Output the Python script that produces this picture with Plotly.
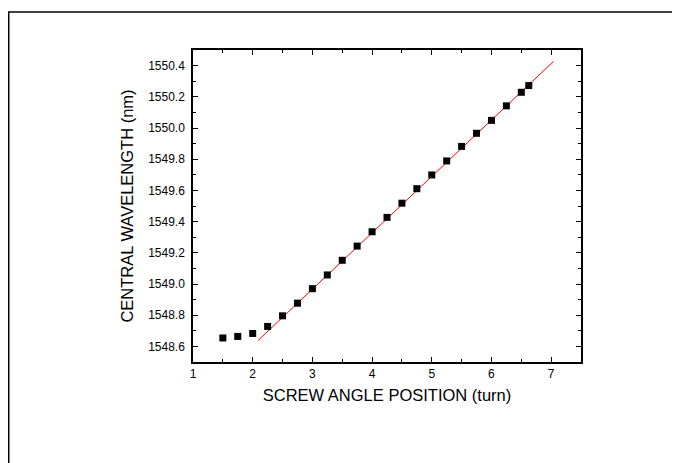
import plotly.graph_objects as go

# measured data (screw angle position in turns, central wavelength in nm)
turns = [1.5, 1.75, 2.0, 2.25, 2.5, 2.75, 3.0, 3.25, 3.5, 3.75, 4.0, 4.25,
         4.5, 4.75, 5.0, 5.25, 5.5, 5.75, 6.0, 6.25, 6.5, 6.625]
wavelength = [1548.654, 1548.664, 1548.683, 1548.728, 1548.796, 1548.877,
              1548.970, 1549.058, 1549.152, 1549.243, 1549.335, 1549.427,
              1549.518, 1549.611, 1549.699, 1549.789, 1549.882, 1549.966,
              1550.049, 1550.142, 1550.229, 1550.272]

# linear fit line endpoints
fit_x = [2.09, 7.04]
fit_y = [1548.638, 1550.427]

x_ticks = [1, 2, 3, 4, 5, 6, 7]
y_ticks = [1548.6, 1548.8, 1549.0, 1549.2, 1549.4, 1549.6, 1549.8, 1550.0, 1550.2, 1550.4]

FONT = "Liberation Sans, Arial, Helvetica, sans-serif"

fig = go.Figure()
fig.add_trace(go.Scatter(x=fit_x, y=fit_y, mode="lines",
                         line=dict(color="#ff0000", width=1), showlegend=False))
fig.add_trace(go.Scatter(x=turns, y=wavelength, mode="markers",
                         marker=dict(symbol="square", size=7, color="black",
                                     line=dict(width=0)), showlegend=False))

axis_common = dict(showline=True, linecolor="black", linewidth=1.5, mirror="allticks",
                   ticks="inside", ticklen=5, tickwidth=1, tickcolor="black",
                   showgrid=False, zeroline=False,
                   tickfont=dict(family=FONT, size=12, color="black"))

fig.update_xaxes(range=[1, 7.5], tickvals=x_ticks, ticktext=[str(v) for v in x_ticks],
                 minor=dict(ticks="inside", ticklen=3, dtick=0.5, tick0=1, tickcolor="black"),
                 title=dict(text="SCREW ANGLE POSITION (turn)", standoff=9,
                            font=dict(family=FONT, size=16.5, color="black")),
                 **axis_common)
fig.update_yaxes(range=[1548.5, 1550.5], tickvals=y_ticks,
                 ticktext=[f"{v:.1f}" for v in y_ticks],
                 minor=dict(ticks="inside", ticklen=3, dtick=0.1, tick0=1548.5, tickcolor="black"),
                 ticklabelstandoff=4,
                 title=dict(text="CENTRAL WAVELENGTH (nm)", standoff=10,
                            font=dict(family=FONT, size=16.5, color="black")),
                 **axis_common)

# outer frame around the figure
fig.add_shape(type="rect", xref="paper", yref="paper",
              x0=-0.4749, x1=1.5, y0=-0.6, y1=1.1218,
              line=dict(color="black", width=1.5), layer="below")

fig.update_layout(width=680, height=463,
                  margin=dict(l=185, r=107, t=42, b=109, autoexpand=False),
                  paper_bgcolor="white", plot_bgcolor="white",
                  font=dict(family=FONT, color="black"))

fig.write_html("out.html")
